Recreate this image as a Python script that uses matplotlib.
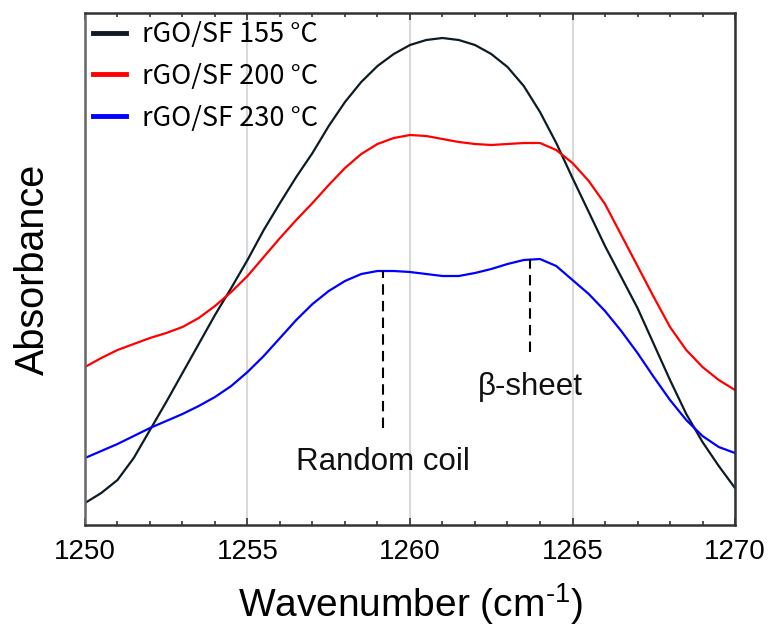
import matplotlib
matplotlib.use('Agg')
import matplotlib.pyplot as plt
from matplotlib.ticker import MultipleLocator
import numpy as np

plt.rcParams['mathtext.fontset'] = 'custom'
plt.rcParams['mathtext.rm'] = 'Liberation Sans'

# wavenumber grid (cm-1), every 0.5
wavenumber = np.arange(1250, 1270.5, 0.5)

# absorbance (arb. units)
abs_155 = [22, 32, 45, 67, 95, 123, 152, 181, 210, 237, 265, 295, 322, 348, 372, 399,
           423, 443, 459, 471, 480, 485, 487, 485, 480, 471, 458, 439, 413, 382, 347,
           313, 279, 248, 217, 181, 145, 111, 83, 59, 37]
abs_200 = [158, 167, 175, 181, 187, 192, 198, 207, 219, 233, 249, 268, 287, 305, 322, 340,
           357, 371, 381, 387, 390, 389, 386, 383, 381, 380, 381, 382, 382, 375, 362,
           344, 321, 290, 259, 228, 198, 175, 158, 145, 135]
abs_230 = [67, 74, 81, 89, 97, 104, 111, 119, 128, 139, 153, 169, 187, 205, 221, 234,
           244, 251, 254, 254, 253, 251, 249, 249, 252, 256, 261, 265, 266, 259, 245,
           231, 214, 194, 172, 148, 125, 105, 89, 78, 72]
labels = ['rGO/SF 155 °C', 'rGO/SF 200 °C', 'rGO/SF 230 °C']
colors = ['#0d1b24', '#ff0000', '#0000ff']

# peak markers: (position, bottom, top, label)
marks = [(1259.17, 97, 254, 'Random coil'), (1263.69, 173, 266, 'β-sheet')]
mark_text_y = [63, 138]

fig = plt.figure(figsize=(7.69, 6.34), dpi=100)
ax = fig.add_axes([0.1105, 0.1719, 0.8453, 0.8076])

for ys, lab, c in zip([abs_155, abs_200, abs_230], labels, colors):
    ax.plot(wavenumber, np.array(ys) / 1000, color=c, lw=1.6, label=lab,
            solid_joinstyle='round')

for (pos, lo, hi, txt), ty in zip(marks, mark_text_y):
    ax.plot([pos, pos], [lo / 1000, hi / 1000], color='black', lw=1.5,
            dashes=(5, 3))
    ax.text(pos, ty / 1000, txt, ha='center', va='center', fontsize=22.5,
            family='Liberation Sans', color='#111111')

ax.set_xlim(1250, 1270)
ax.set_ylim(0, 0.512)
ax.xaxis.set_major_locator(MultipleLocator(5))
ax.xaxis.set_minor_locator(MultipleLocator(1))
ax.set_yticks([])
ax.grid(axis='x', which='major', color='#d9d9d9', lw=1.5)
ax.set_axisbelow(True)
ax.tick_params(axis='x', which='both', direction='in', top=True, bottom=True,
               color='#333333', width=1.2)
ax.tick_params(axis='x', which='major', length=5, labelsize=20, pad=10)
ax.tick_params(axis='x', which='minor', length=3)
for lbl in ax.get_xticklabels():
    lbl.set_family('Liberation Sans')
for s in ax.spines.values():
    s.set_linewidth(1.8)
    s.set_color('#333333')
ax.spines['left'].set_color('#666666')

ax.set_xlabel('Wavenumber (cm$^{\\text{-1}}$)', fontsize=28, family='Liberation Sans',
              labelpad=12)
ax.set_ylabel('Absorbance', fontsize=28.5, family='Liberation Sans', labelpad=24)

leg = ax.legend(loc='upper left', bbox_to_anchor=(-0.025, 1.032), frameon=False,
                prop={'family': 'Noto Sans CJK KR', 'size': 19.5},
                handlelength=1.2, handletextpad=0.6, labelspacing=0.55)
for h in leg.get_lines():
    h.set_linewidth(3.5)

fig.savefig('out.png', dpi=100)
